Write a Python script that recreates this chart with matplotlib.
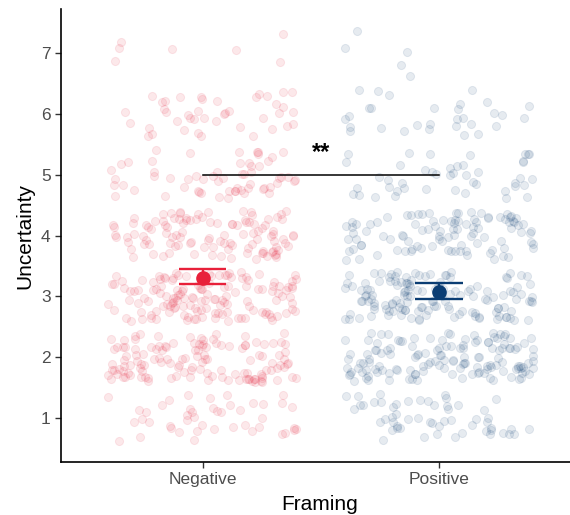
import numpy as np
import matplotlib.pyplot as plt

plt.rcParams['font.family'] = ['Liberation Sans', 'DejaVu Sans']

# framing groups and responses on a 1-7 scale (counts)
groups = ["Negative", "Positive"]
levels = [1, 2, 3, 4, 5, 6, 7]
neg_counts = [45, 130, 140, 110, 60, 42, 7]
pos_counts = [55, 140, 140, 100, 45, 30, 5]

# mean and error bar bounds per group
means = [3.31, 3.08]
lower = [3.20, 2.95]
upper = [3.45, 3.22]

colors = ["#E8203A", "#0B3D73"]
yticks = [1, 2, 3, 4, 5, 6, 7]


def hash01(k, a):
    # deterministic scatter in [0, 1) for jitter placement
    return (np.sin(k * a) * 43758.5453) % 1


def jitter_points(xpos, counts, offset):
    ys = np.repeat(levels, counts).astype(float)
    k = np.arange(len(ys)) + offset + 1
    xs = xpos + (hash01(k, 12.9898) - 0.5) * 0.8
    ys = ys + (hash01(k, 78.233) - 0.5) * 0.8
    return xs, ys


fig = plt.figure(figsize=(5.7, 5.15), dpi=100)
ax = fig.add_axes([0.107, 0.103, 0.893, 0.879])

for i, (counts, col) in enumerate(zip([neg_counts, pos_counts], colors)):
    x, y = jitter_points(i + 1, counts, offset=i * 1000)
    ax.scatter(x, y, s=34, facecolor=col, edgecolor=col, alpha=0.1,
               linewidths=0.7, zorder=2)

for i, col in enumerate(colors):
    xp = i + 1
    ax.hlines([lower[i], upper[i]], xp - 0.1, xp + 0.1, color=col, lw=1.7, zorder=3)
    ax.vlines(xp, lower[i], upper[i], color=col, lw=1.7, zorder=3)
    ax.plot(xp, means[i], 'o', color=col, markersize=9.5, zorder=4)

# significance bracket
ax.plot([1, 2], [5, 5], color='black', lw=1.1, zorder=5)
ax.text(1.5, 5.36, "**", ha='center', va='center', fontsize=17,
        fontweight='bold', zorder=5)

ax.set_xlim(0.4, 2.555)
ax.set_ylim(0.28, 7.72)
ax.set_xticks([1, 2])
ax.set_xticklabels(groups)
ax.set_yticks(yticks)
ax.tick_params(colors='#333333', labelcolor='#4D4D4D', labelsize=12.5,
               length=4, width=1)
for s in ['top', 'right']:
    ax.spines[s].set_visible(False)
for s in ['left', 'bottom']:
    ax.spines[s].set_linewidth(1.2)

fig.text(320 / 570, 1 - 505 / 515, "Framing", ha='center', va='center', fontsize=15)
fig.text(25 / 570, 1 - 236 / 515, "Uncertainty", ha='center', va='center',
         fontsize=15, rotation=90)

fig.savefig("out.png", dpi=100)
